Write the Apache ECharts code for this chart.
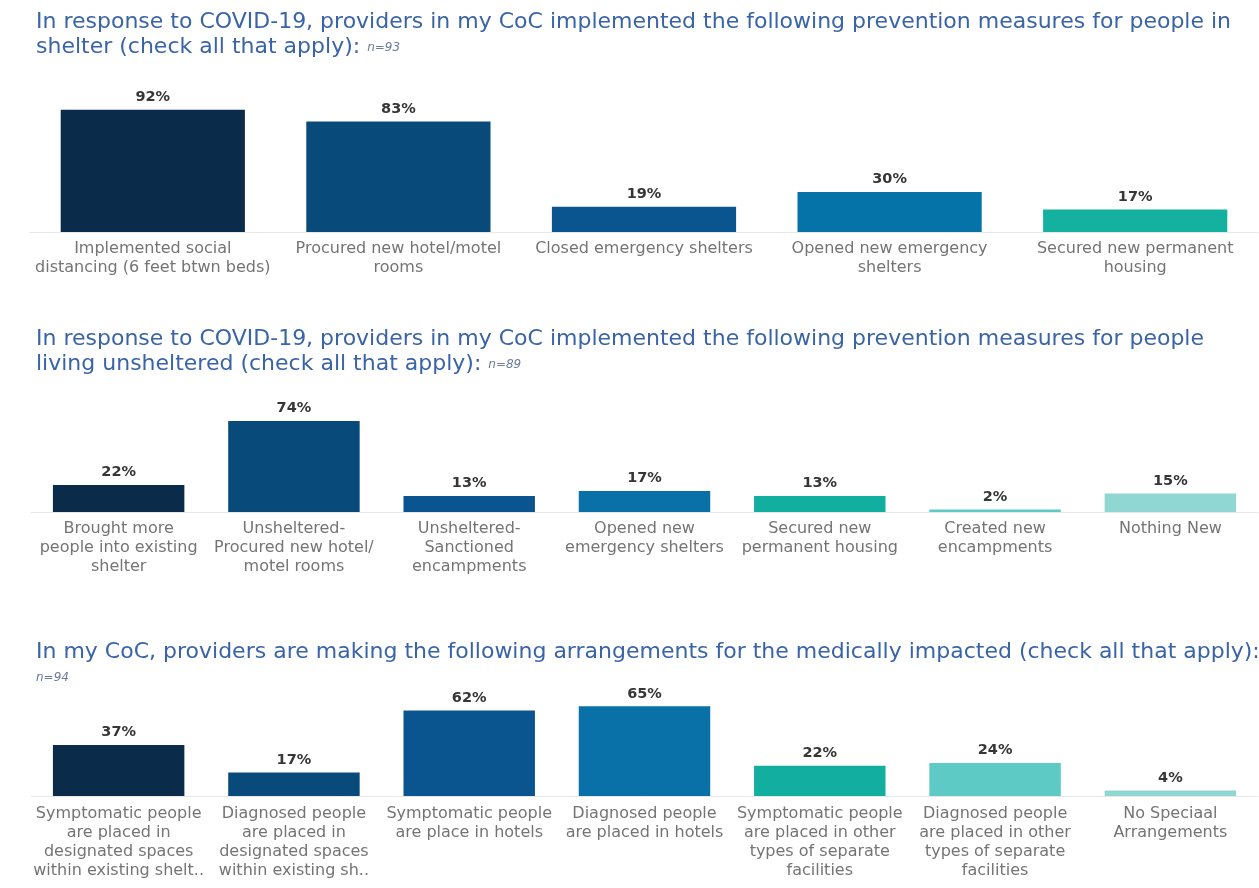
<!DOCTYPE html>
<html>
<head>
<meta charset="utf-8">
<script src="https://cdn.jsdelivr.net/npm/echarts@6/dist/echarts.min.js"></script>
<style>
  html, body { margin: 0; padding: 0; background: #fff; }
  #main { width: 1259px; height: 888px; }
</style>
</head>
<body>
<div id="main"></div>
<script>
// 数据
const shelterCategories = [
    'Implemented social\ndistancing (6 feet btwn beds)',
    'Procured new hotel/motel\nrooms',
    'Closed emergency shelters',
    'Opened new emergency\nshelters',
    'Secured new permanent\nhousing'
]
const shelterValues = [92, 83, 19, 30, 17]

const unshelteredCategories = [
    'Brought more\npeople into existing\nshelter',
    'Unsheltered-\nProcured new hotel/\nmotel rooms',
    'Unsheltered-\nSanctioned\nencampments',
    'Opened new\nemergency shelters',
    'Secured new\npermanent housing',
    'Created new\nencampments',
    'Nothing New'
]
const unshelteredValues = [22, 74, 13, 17, 13, 2, 15]

const medicalCategories = [
    'Symptomatic people\nare placed in\ndesignated spaces\nwithin existing shelt..',
    'Diagnosed people\nare placed in\ndesignated spaces\nwithin existing sh..',
    'Symptomatic people\nare place in hotels',
    'Diagnosed people\nare placed in hotels',
    'Symptomatic people\nare placed in other\ntypes of separate\nfacilities',
    'Diagnosed people\nare placed in other\ntypes of separate\nfacilities',
    'No Speciaal\nArrangements'
]
const medicalValues = [37, 17, 62, 65, 22, 24, 4]

// 颜色
const shelterColors = ['#0b2b4b', '#084a7a', '#0a5590', '#0572a8', '#14b0a0']
const sevenColors = ['#0b2b4b', '#084a7a', '#0a5590', '#0a70a8', '#12aea0', '#5ecac5', '#90d6d3']

const FONT = 'DejaVu Sans'

const titleRich = {
    t: { fontSize: 22, fontWeight: 'normal', color: '#3a64a8', lineHeight: 25, fontFamily: FONT },
    n: { fontSize: 12, fontWeight: 'normal', color: '#6c7c99', fontStyle: 'italic', lineHeight: 25, fontFamily: FONT }
}

function makeTitle(text, top) {
    return {
        text: text,
        left: 36,
        top: top,
        padding: 0,
        textStyle: { fontWeight: 'normal', rich: titleRich }
    }
}

function makeXAxis(gridIndex, data, margin) {
    return {
        type: 'category',
        gridIndex: gridIndex,
        data: data,
        axisLine: { lineStyle: { color: '#e8e8e8', width: 1 } },
        axisTick: { show: false },
        axisLabel: {
            interval: 0,
            margin: margin,
            color: '#747474',
            fontSize: 16,
            lineHeight: 19,
            fontFamily: FONT
        }
    }
}

function makeYAxis(gridIndex) {
    return {
        type: 'value',
        gridIndex: gridIndex,
        min: 0,
        max: 100,
        show: false,
        splitLine: { show: false }
    }
}

function makeSeries(index, values, colors) {
    return {
        type: 'bar',
        xAxisIndex: index,
        yAxisIndex: index,
        barCategoryGap: '25%',
        data: values.map((v, i) => ({ value: v, itemStyle: { color: colors[i] } })),
        label: {
            show: true,
            position: 'top',
            distance: 5,
            formatter: '{c}%',
            color: '#363636',
            fontSize: 14.5,
            fontWeight: 'bold',
            fontFamily: FONT
        },
        animation: false
    }
}

const option = {
    backgroundColor: '#fff',
    title: [
        makeTitle('{t|In response to COVID-19, providers in my CoC implemented the following prevention measures for people in}\n{t|shelter (check all that apply): }{n|n=93}', 10),
        makeTitle('{t|In response to COVID-19, providers in my CoC implemented the following prevention measures for people}\n{t|living unsheltered (check all that apply): }{n|n=89}', 327),
        makeTitle('{t|In my CoC, providers are making the following arrangements for the medically impacted (check all that apply):}\n{n|n=94}', 640)
    ],
    grid: [
        { left: 30, width: 1228, top: 99, height: 133 },
        { left: 31, width: 1227, top: 389, height: 123 },
        { left: 31, width: 1227, top: 658, height: 138 }
    ],
    xAxis: [
        makeXAxis(0, shelterCategories, 7),
        makeXAxis(1, unshelteredCategories, 7),
        makeXAxis(2, medicalCategories, 8)
    ],
    yAxis: [makeYAxis(0), makeYAxis(1), makeYAxis(2)],
    series: [
        makeSeries(0, shelterValues, shelterColors),
        makeSeries(1, unshelteredValues, sevenColors),
        makeSeries(2, medicalValues, sevenColors)
    ]
}

const myChart = echarts.init(document.getElementById('main'))
myChart.setOption(option)
window.addEventListener('resize', () => {
    myChart.resize()
})
</script>
</body>
</html>
